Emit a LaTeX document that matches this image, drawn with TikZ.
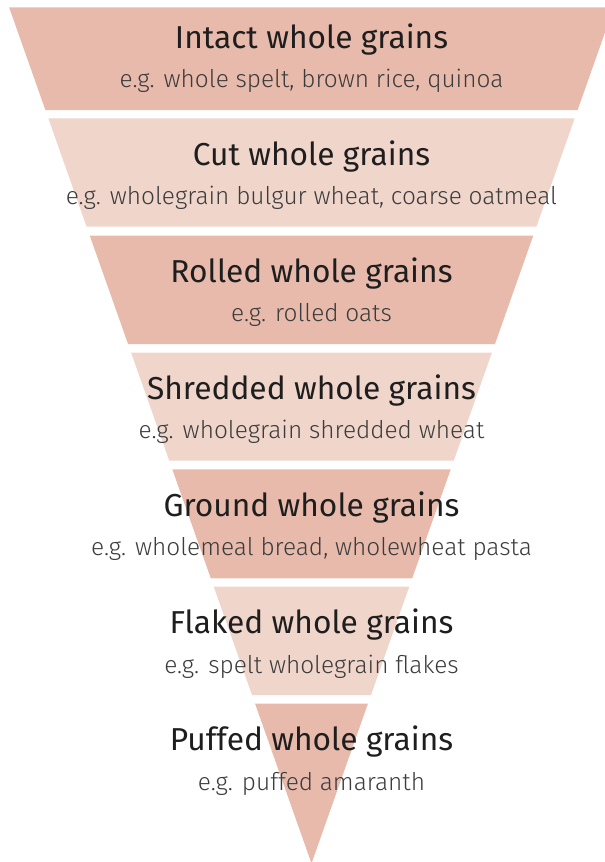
\documentclass[tikz,border=0pt]{standalone}
\usepackage{fontspec}
\setmainfont{Fira Sans}
\newfontfamily\subfont{Fira Sans Light}
\definecolor{banddark}{RGB}{232,186,171}
\definecolor{bandlight}{RGB}{240,213,203}
\definecolor{titlecol}{RGB}{30,30,30}
\definecolor{subcol}{RGB}{60,60,60}
\tikzset{
  titletext/.style={anchor=base, text=titlecol, font=\fontsize{31.7}{35}\selectfont, inner sep=0pt},
  subtext/.style={anchor=base, text=subcol, font=\subfont\fontsize{24.4}{28}\selectfont, inner sep=0pt},
}
\begin{document}
\begin{tikzpicture}[x=1pt,y=-1pt]
\useasboundingbox (0,0) rectangle (605,862);
\clip (0,0) rectangle (605,862);
\pgfmathsetmacro{\k}{302/855}
\foreach \t/\b/\c [count=\i] in {7.3/110/banddark, 118.3/226.7/bandlight, 235.7/344/banddark, 352.7/460.7/bandlight, 469.3/578.3/banddark, 586.7/695/bandlight, 703.7/862/banddark}{
  \pgfmathsetmacro{\lt}{9+(\t-7)*\k}
  \pgfmathsetmacro{\rt}{614-(\t-7)*\k}
  \pgfmathsetmacro{\lb}{9+(\b-7)*\k}
  \pgfmathsetmacro{\rb}{614-(\b-7)*\k}
  \fill[\c] (\lt,\t) -- (\rt,\t) -- (\rb,\b) -- (\lb,\b) -- cycle;
}
\node[titletext] (t1) at (311.5,48.3) {Intact whole grains};
\node[subtext] (s1) at (311.5,87.5) {e.g. whole spelt, brown rice, quinoa};
\node[titletext] (t2) at (311.5,165.4) {Cut whole grains};
\node[subtext] (s2) at (311.5,204.6) {e.g. wholegrain bulgur wheat, coarse oatmeal};
\node[titletext] (t3) at (311.5,282.5) {Rolled whole grains};
\node[subtext] (s3) at (311.5,321.7) {e.g. rolled oats};
\node[titletext] (t4) at (311.5,399.6) {Shredded whole grains};
\node[subtext] (s4) at (311.5,438.8) {e.g. wholegrain shredded wheat};
\node[titletext] (t5) at (311.5,516.7) {Ground whole grains};
\node[subtext] (s5) at (311.5,555.9) {e.g. wholemeal bread, wholewheat pasta};
\node[titletext] (t6) at (311.5,633.8) {Flaked whole grains};
\node[subtext] (s6) at (311.5,673.0) {e.g. spelt wholegrain flakes};
\node[titletext] (t7) at (311.5,750.9) {Puffed whole grains};
\node[subtext] (s7) at (311.5,790.1) {e.g. puffed amaranth};
\end{tikzpicture}
\end{document}
